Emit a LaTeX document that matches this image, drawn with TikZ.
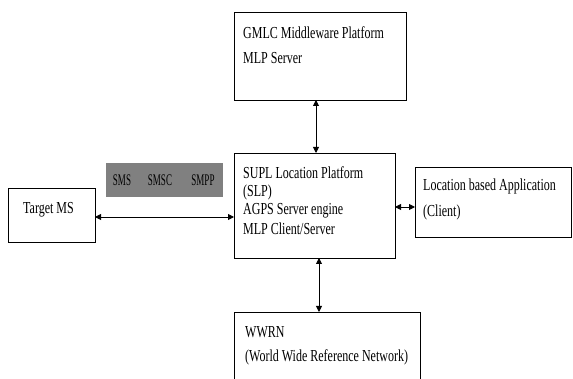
\documentclass[tikz,border=0pt]{standalone}
\usepackage{fontspec}
\setmainfont{Liberation Serif}
\usetikzlibrary{arrows.meta}
\newcommand{\tallA}[1]{\scalebox{1}[1.4]{#1}}
\newcommand{\tallB}[1]{\scalebox{1}[1.8]{#1}}
\begin{document}
\begin{tikzpicture}[x=1pt,y=-1pt,
  box/.style={draw=black,line width=0.9pt,fill=white},
  txt/.style={anchor=west,inner sep=0pt,font=\fontsize{12}{14}\selectfont},
  stxt/.style={inner sep=0pt,font=\fontsize{9}{11}\selectfont},
  link/.style={line width=0.9pt,{Triangle[length=6pt,width=6pt]}-{Triangle[length=6pt,width=6pt]}}]
\useasboundingbox (0,0) rectangle (573,379);
% boxes
\draw[box] (234,12) rectangle (406,100);
\coordinate (gmlc) at (316,100);
\draw[box] (234,153) rectangle (395,258);
\coordinate (slptop) at (316,153);
\coordinate (slpbot) at (319,258);
\coordinate (slpright) at (395,207);
\coordinate (slpleft) at (234,217);
\draw[box] (415,167) rectangle (571,237);
\coordinate (lba) at (415,207);
\draw[box] (8,188) rectangle (95,242);
\coordinate (ms) at (95,217);
\draw[box] (234,312) rectangle (420,385);
\coordinate (wwrn) at (319,312);
\fill[black!50] (106,163) rectangle (223,197);
% texts
\node[txt] (t1) at (243,33) {\tallA{GMLC Middleware Platform}};
\node[txt] (t2) at (243,58) {\tallA{MLP Server}};
\node[txt] (t3) at (243,173) {\tallA{SUPL Location Platform}};
\node[txt] (t4) at (243,192) {\tallA{(SLP)}};
\node[txt] (t5) at (243,211) {\tallA{AGPS Server engine}};
\node[txt] (t6) at (243,229) {\tallA{MLP Client/Server}};
\node[txt] (t7) at (423,186) {\tallA{Location based Application}};
\node[txt] (t8) at (423,212) {\tallA{(Client)}};
\node[txt] (t9) at (23,210) {\tallA{Target MS}};
\node[txt] (t10) at (245,332) {\tallA{WWRN}};
\node[txt] (t11) at (245,357) {\tallA{(World Wide Reference Network)}};
\node[stxt] (s1) at (122,180) {\tallB{SMS}};
\node[stxt] (s2) at (160,180) {\tallB{SMSC}};
\node[stxt] (s3) at (203,180) {\tallB{SMPP}};
% connectors
\draw[link] (gmlc) -- (slptop);
\draw[link] (slpbot) -- (wwrn);
\draw[link] (slpright) -- (lba);
\draw[link] (ms) -- (slpleft);
\end{tikzpicture}
\end{document}
